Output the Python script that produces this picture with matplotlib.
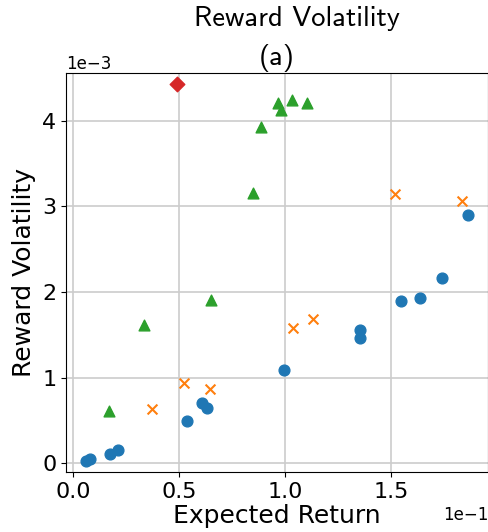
import numpy as np
import matplotlib
matplotlib.use("Agg")
import matplotlib.pyplot as plt

# ====== data (x in units of 1e-1, y in units of 1e-3) ======
blue_x = [0.061, 0.080, 0.175, 0.210, 0.540, 0.610, 0.630, 0.995, 1.354, 1.354, 1.547, 1.637, 1.740, 1.863]
blue_y = [0.03, 0.05, 0.11, 0.16, 0.50, 0.70, 0.65, 1.09, 1.56, 1.46, 1.89, 1.93, 2.16, 2.90]

orange_x = [0.371, 0.525, 0.646, 1.039, 1.134, 1.519, 1.833]
orange_y = [0.63, 0.94, 0.87, 1.575, 1.68, 3.14, 3.06]

green_x = [0.171, 0.336, 0.650, 0.851, 0.887, 0.969, 0.980, 1.032, 1.102]
green_y = [0.61, 1.61, 1.91, 3.16, 3.92, 4.20, 4.12, 4.24, 4.21]

red_x = [0.489]
red_y = [4.43]

bx = np.array(blue_x) * 1e-1
by = np.array(blue_y) * 1e-3
ox = np.array(orange_x) * 1e-1
oy = np.array(orange_y) * 1e-3
gx = np.array(green_x) * 1e-1
gy = np.array(green_y) * 1e-3
rx = np.array(red_x) * 1e-1
ry = np.array(red_y) * 1e-3

fig = plt.figure(figsize=(4.89, 5.32), dpi=100)
ax = fig.add_axes([0.135, 0.113, 0.863, 0.750])

ax.scatter(bx, by, s=60, marker='o', color='tab:blue', zorder=3)
ax.scatter(ox, oy, s=50, marker='x', color='tab:orange', zorder=3)
ax.scatter(gx, gy, s=60, marker='^', color='tab:green', zorder=3)
ax.scatter(rx, ry, s=55, marker='D', color='tab:red', zorder=3)

ax.set_xlim(-0.033e-1, 1.958e-1)
ax.set_ylim(-0.098e-3, 4.556e-3)
ax.set_xticks(np.array([0.0, 0.5, 1.0, 1.5]) * 1e-1)
ax.set_yticks(np.array([0, 1, 2, 3, 4]) * 1e-3)
ax.ticklabel_format(style='sci', axis='both', scilimits=(0, 0))
ax.tick_params(labelsize=16)
ax.xaxis.get_offset_text().set_fontsize(12)
ax.yaxis.get_offset_text().set_fontsize(12)

ax.grid(True, color='#cccccc', linewidth=1.2)
ax.set_axisbelow(True)

ax.set_xlabel("Expected Return", fontsize=18, labelpad=2)
ax.set_ylabel("Reward Volatility", fontsize=18, labelpad=4)
# title: two lines, the first one sits a bit right of the axes centre
ax.set_title("(a)", fontsize=20.5, family='cmss10', pad=6)
fig.text(0.607, 0.966, "Reward Volatility", fontsize=20.5, family='cmss10',
         ha='center', va='center')

fig.savefig("out.png", dpi=100)
